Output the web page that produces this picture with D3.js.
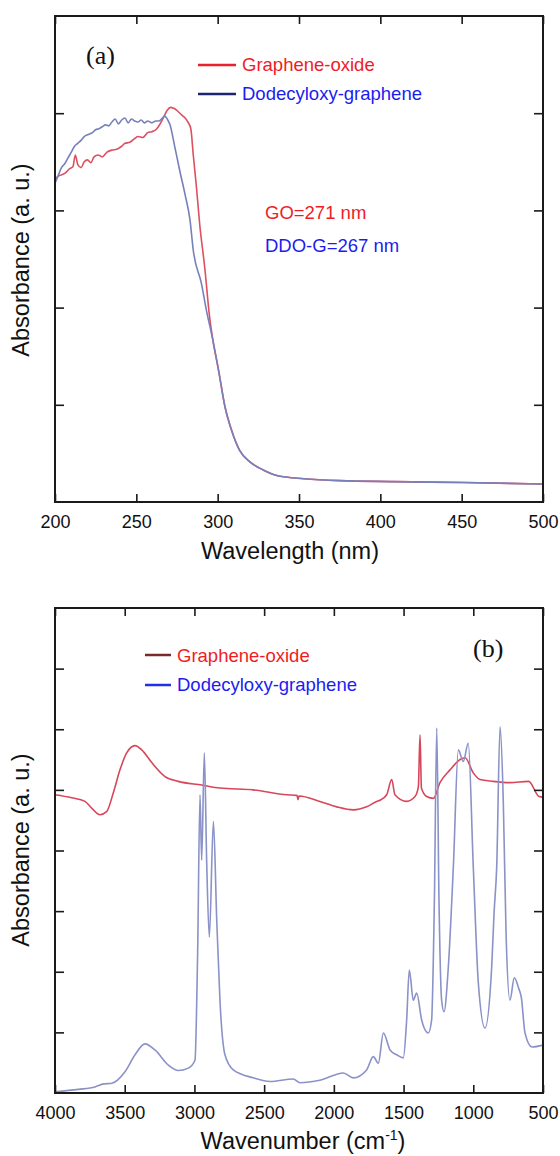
<!DOCTYPE html>
<html>
<head>
<meta charset="utf-8">
<script src="https://cdn.jsdelivr.net/npm/d3@7/dist/d3.min.js"></script>
<style>
  body { margin: 0; background: #fff; }
  text { font-family: "Liberation Sans", Arial, sans-serif; }
</style>
</head>
<body>
<div id="chart"></div>
<script>
// legend names
const seriesNames = ["Graphene-oxide", "Dodecyloxy-graphene"];

// (a) UV-vis, wavelength in nm vs absorbance (a.u.)
const uvXTicks = [200, 250, 300, 350, 400, 450, 500];
const uvYTicks = [1, 2, 3, 4];
const uvGO = [
  [200, 3.33], [203, 3.36], [206, 3.38], [209, 3.43], [211, 3.45], [212.5, 3.57], [214, 3.47],
  [216, 3.44], [218, 3.50], [220, 3.52], [222, 3.49], [224, 3.55], [226.5, 3.57], [229, 3.55],
  [232, 3.60], [235, 3.62], [238, 3.63], [241, 3.66], [243, 3.69], [246, 3.70], [249, 3.74],
  [251, 3.76], [254, 3.75], [257, 3.80], [259.5, 3.81], [262, 3.83], [263.5, 3.86], [266.5, 3.95],
  [269, 4.03], [271, 4.06], [273, 4.05], [275.5, 4.02], [278, 3.98], [280, 3.95], [282, 3.90],
  [283.5, 3.84], [285, 3.57], [287, 3.23], [289, 2.85], [292, 2.42], [295, 1.91], [297, 1.67],
  [300.5, 1.36], [304.5, 0.98], [308.5, 0.74], [313.5, 0.53], [320, 0.41], [328, 0.33],
  [337, 0.27], [353, 0.24], [375, 0.22], [408, 0.21], [451, 0.20], [500, 0.185]
];
const uvDDOG = [
  [200, 3.28], [202, 3.36], [204, 3.44], [206, 3.48], [208, 3.54], [210, 3.60], [212, 3.66],
  [214, 3.69], [216, 3.72], [218, 3.76], [220.5, 3.78], [223, 3.80], [225, 3.83], [227, 3.84],
  [229, 3.86], [231, 3.88], [233, 3.87], [235, 3.91], [237, 3.94], [239, 3.89], [241, 3.93],
  [243, 3.95], [245, 3.90], [247, 3.94], [249, 3.92], [251, 3.91], [253, 3.93], [255, 3.90],
  [257, 3.92], [259.5, 3.90], [262, 3.92], [264, 3.92], [266, 3.95], [267.5, 3.97], [269, 3.94],
  [270.7, 3.88], [273.8, 3.64], [276.8, 3.40], [280, 3.16], [283, 2.90], [285, 2.59], [290, 2.25],
  [293, 1.98], [297, 1.67], [300.5, 1.36], [304.5, 0.98], [308.5, 0.74], [313.5, 0.53], [320, 0.41],
  [328, 0.33], [337, 0.27], [353, 0.24], [375, 0.22], [408, 0.21], [451, 0.20], [500, 0.185]
];

// (b) FTIR, wavenumber in cm-1 vs absorbance (a.u.)
const irXTicks = [4000, 3500, 3000, 2500, 2000, 1500, 1000, 500];
const irYTicks = [1, 2, 3, 4, 5, 6, 7];
const irGO = [
  [4000, 4.92], [3880, 4.87], [3785, 4.81], [3737, 4.70], [3677, 4.59], [3630, 4.64], [3582, 4.95],
  [3534, 5.33], [3486, 5.61], [3426, 5.73], [3378, 5.66], [3306, 5.45], [3211, 5.22], [3116, 5.14],
  [2948, 5.08], [2817, 5.03], [2578, 5.00], [2338, 4.92], [2265, 4.91], [2257, 4.84], [2250, 4.90],
  [2100, 4.81], [1980, 4.72], [1860, 4.67], [1765, 4.72], [1693, 4.81], [1669, 4.83], [1621, 4.92],
  [1585, 5.17], [1562, 4.92], [1478, 4.81], [1418, 4.89], [1394, 5.05], [1382, 5.91], [1372, 5.03],
  [1334, 4.89], [1286, 4.86], [1239, 5.12], [1167, 5.33], [1095, 5.50], [1059, 5.53], [1000, 5.28],
  [952, 5.17], [857, 5.14], [737, 5.12], [603, 5.14], [528, 4.89], [500, 4.88]
];
const irDDOG = [
  [4000, 0.02], [3833, 0.06], [3713, 0.10], [3650, 0.15], [3593, 0.16], [3498, 0.35], [3426, 0.63],
  [3355, 0.81], [3283, 0.71], [3187, 0.46], [3116, 0.37], [3044, 0.41], [2996, 0.54], [2977, 2.31],
  [2960, 4.92], [2948, 3.84], [2929, 5.61], [2912, 3.80], [2893, 2.57], [2864, 4.48], [2840, 2.85],
  [2817, 1.53], [2781, 0.63], [2721, 0.38], [2578, 0.25], [2458, 0.19], [2291, 0.23], [2243, 0.17],
  [2100, 0.21], [1932, 0.33], [1861, 0.25], [1765, 0.38], [1717, 0.60], [1681, 0.49], [1645, 0.99],
  [1597, 0.71], [1549, 0.63], [1502, 0.58], [1478, 1.20], [1459, 2.03], [1430, 1.53], [1406, 1.65],
  [1370, 1.20], [1323, 0.99], [1299, 1.20], [1279, 3.18], [1262, 6.02], [1246, 3.18], [1227, 1.53],
  [1210, 1.34], [1179, 2.08], [1143, 3.73], [1107, 5.66], [1072, 5.47], [1036, 5.77], [1000, 3.73],
  [964, 1.82], [916, 1.07], [868, 2.08], [851, 2.97], [832, 3.73], [808, 6.04], [785, 4.83],
  [765, 2.64], [737, 1.53], [706, 1.90], [675, 1.73], [655, 1.57], [629, 0.99], [579, 0.76], [500, 0.79]
];

const width = 560, height = 1156;
const left = 55, right = 543;

const svg = d3.select("#chart")
  .append("svg")
    .attr("width", width)
    .attr("height", height);

// frame with inward ticks on all four sides
function drawFrame(x, y, xTicks, yTicks) {
  const [y0, y1] = y.range();
  const g = svg.append("g");

  g.append("g")
    .attr("transform", `translate(0,${y0})`)
    .call(d3.axisBottom(x).tickValues(xTicks).tickSizeInner(-8).tickSizeOuter(0)
      .tickPadding(13).tickFormat(d3.format("d")));
  g.append("g")
    .attr("transform", `translate(0,${y1})`)
    .call(d3.axisTop(x).tickValues(xTicks).tickSizeInner(-8).tickSizeOuter(0).tickFormat(""));
  g.append("g")
    .attr("transform", `translate(${left},0)`)
    .call(d3.axisLeft(y).tickValues(yTicks).tickSizeInner(-9).tickSizeOuter(0).tickFormat(""));
  g.append("g")
    .attr("transform", `translate(${right},0)`)
    .call(d3.axisRight(y).tickValues(yTicks).tickSizeInner(-9).tickSizeOuter(0).tickFormat(""));

  g.selectAll(".domain").remove();
  g.selectAll(".tick line").attr("stroke", "#1a1a1a").attr("stroke-width", 1.6);
  g.selectAll(".tick text")
    .attr("fill", "#111")
    .style("font-size", "18px")
    .style("font-family", "'Liberation Sans', Arial, sans-serif");

  g.append("rect")
    .attr("x", left)
    .attr("y", y1)
    .attr("width", right - left)
    .attr("height", y0 - y1)
    .attr("fill", "none")
    .attr("stroke", "#1a1a1a")
    .attr("stroke-width", 2);
}

function drawLine(data, x, y, colour, w) {
  const line = d3.line().curve(d3.curveMonotoneX).x(d => x(d[0])).y(d => y(d[1]));
  svg.append("path")
    .datum(data)
    .attr("d", line)
    .attr("fill", "none")
    .attr("stroke", colour)
    .attr("stroke-width", w)
    .attr("stroke-linejoin", "round");
}

function legendRow(x1, x2, yLine, yText, lineColour, label, textColour) {
  svg.append("line")
    .attr("x1", x1).attr("x2", x2)
    .attr("y1", yLine).attr("y2", yLine)
    .attr("stroke", lineColour)
    .attr("stroke-width", 2.5);
  svg.append("text")
    .attr("x", x2 + 6)
    .attr("y", yText)
    .attr("fill", textColour)
    .style("font-size", "18.5px")
    .text(label);
}

function yLabel(cy) {
  svg.append("text")
    .attr("transform", `translate(29,${cy}) rotate(-90)`)
    .attr("text-anchor", "middle")
    .attr("fill", "#111")
    .style("font-size", "23.5px")
    .text("Absorbance (a. u.)");
}

// ---------- panel (a) ----------
const xA = d3.scaleLinear().domain([200, 500]).range([left, right]);
const yA = d3.scaleLinear().domain([0, 5]).range([502, 16]);

drawLine(uvGO, xA, yA, "#dc5060", 1.6);
drawLine(uvDDOG, xA, yA, "#7880bc", 1.6);
drawFrame(xA, yA, uvXTicks, uvYTicks);

svg.append("text")
  .attr("x", 86).attr("y", 64)
  .style("font-family", "'Liberation Serif', 'Times New Roman', serif")
  .style("font-size", "26px")
  .attr("fill", "#111")
  .text("(a)");

legendRow(198, 236, 65, 71, "#e8222c", seriesNames[0], "#f01c24");
legendRow(198, 236, 94, 100, "#1e2470", seriesNames[1], "#1c1cf0");

svg.append("text")
  .attr("x", 265).attr("y", 219)
  .attr("fill", "#f01c24")
  .style("font-size", "18.5px")
  .text("GO=271 nm");
svg.append("text")
  .attr("x", 265).attr("y", 252)
  .attr("fill", "#1c1cf0")
  .style("font-size", "18.5px")
  .text("DDO-G=267 nm");

yLabel(260);
svg.append("text")
  .attr("x", 290).attr("y", 559)
  .attr("text-anchor", "middle")
  .attr("fill", "#111")
  .style("font-size", "23.5px")
  .text("Wavelength (nm)");

// ---------- panel (b) ----------
const xB = d3.scaleLinear().domain([4000, 500]).range([left, right]);
const yB = d3.scaleLinear().domain([0, 8]).range([1093, 608]);

drawLine(irGO, xB, yB, "#d8465a", 1.6);
drawLine(irDDOG, xB, yB, "#8a92c8", 1.6);
drawFrame(xB, yB, irXTicks, irYTicks);

svg.append("text")
  .attr("x", 473).attr("y", 657)
  .style("font-family", "'Liberation Serif', 'Times New Roman', serif")
  .style("font-size", "26px")
  .attr("fill", "#111")
  .text("(b)");

legendRow(145, 171, 655, 662, "#7a2a2e", seriesNames[0], "#f01c24");
legendRow(145, 171, 685, 691, "#2030e8", seriesNames[1], "#1c1cf0");

yLabel(850);
const xl = svg.append("text")
  .attr("x", 303).attr("y", 1149)
  .attr("text-anchor", "middle")
  .attr("fill", "#111")
  .style("font-size", "23.5px");
xl.append("tspan").text("Wavenumber (cm");
xl.append("tspan").attr("dy", -9).style("font-size", "14px").text("-1");
xl.append("tspan").attr("dy", 9).text(")");
</script>
</body>
</html>
